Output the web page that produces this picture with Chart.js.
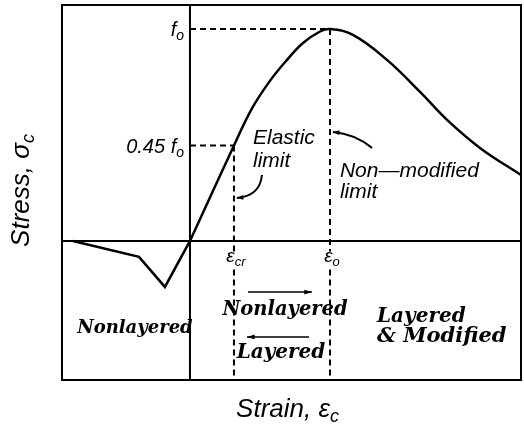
<!DOCTYPE html>
<html>
<head>
<meta charset="utf-8">
<script src="https://cdn.jsdelivr.net/npm/chart.js@4.4.0/dist/chart.umd.min.js"></script>
<style>
  html, body { margin: 0; padding: 0; background: #fff; }
  #wrap { width: 524px; height: 424px; }
</style>
</head>
<body>
<div id="wrap"><canvas id="grafico" width="524" height="424"></canvas></div>
<script>
// curva tension-deformacion (unidades: deformacion / eps_o, tension / f_o)
const epsCr = 0.314;
const epsO = 1.0;
const fO = 1.0;
const ratioElastico = 0.45;

// tramo de traccion (negativo)
const strainNeg = [-0.836, -0.364, -0.179, 0];
const stressNeg = [0, -0.075, -0.217, 0];

// tramo de compresion hasta el pico y descenso
const strainPos = [0, 0.314, 0.443, 0.571, 0.693, 0.807, 0.929, 1.0, 1.164, 1.407, 1.643, 1.836, 2.071, 2.364];
const stressPos = [0, 0.45, 0.625, 0.755, 0.854, 0.934, 0.988, 1.0, 0.972, 0.854, 0.703, 0.571, 0.439, 0.311];

// limites de los ejes
const xMin = -0.914, xMax = 2.364;
const yMin = -0.656, yMax = 1.113;

// textos
const yTicks = [
    { v: ratioElastico * fO, main: "0.45 f", sub: "o" },
    { v: fO, main: "f", sub: "o" }
];
const xTicks = [
    { v: epsCr, main: "\u03B5", sub: "cr" },
    { v: epsO, main: "\u03B5", sub: "o" }
];

const SANS = '"Liberation Sans", Arial, sans-serif';
const SERIF = '"DejaVu Serif", serif';

// helpers
function pts(xs, ys) {
    return xs.map((x, i) => ({ x: x, y: ys[i] }));
}
function linea(data, extra) {
    return Object.assign({
        data: data,
        showLine: true,
        borderColor: '#000',
        borderWidth: 2,
        pointRadius: 0,
        fill: false
    }, extra || {});
}
const dash = { borderDash: [6, 4], borderWidth: 2 };

// texto con subindice
function textoSub(ctx, main, sub, x, y, size, align) {
    const fMain = 'italic ' + size + 'px ' + SANS;
    const fSub = 'italic ' + Math.round(size * 0.7) + 'px ' + SANS;
    ctx.font = fMain;
    const w1 = ctx.measureText(main).width;
    ctx.font = fSub;
    const w2 = ctx.measureText(sub).width;
    const total = w1 + w2;
    let x0 = x;
    if (align === 'right') x0 = x - total;
    if (align === 'center') x0 = x - total / 2;
    ctx.textAlign = 'left';
    ctx.textBaseline = 'alphabetic';
    ctx.font = fMain;
    ctx.fillText(main, x0, y);
    ctx.font = fSub;
    ctx.fillText(sub, x0 + w1, y + size * 0.2);
}

function flecha(ctx, x1, y1, x2, y2) {
    const ang = Math.atan2(y2 - y1, x2 - x1);
    ctx.beginPath();
    ctx.moveTo(x1, y1);
    ctx.lineTo(x2, y2);
    ctx.stroke();
    ctx.beginPath();
    ctx.moveTo(x2, y2);
    ctx.lineTo(x2 - 8 * Math.cos(ang - 0.3), y2 - 8 * Math.sin(ang - 0.3));
    ctx.lineTo(x2 - 8 * Math.cos(ang + 0.3), y2 - 8 * Math.sin(ang + 0.3));
    ctx.closePath();
    ctx.fill();
}

function guia(ctx, a, c, b) {
    ctx.beginPath();
    ctx.moveTo(a[0], a[1]);
    ctx.quadraticCurveTo(c[0], c[1], b[0], b[1]);
    ctx.stroke();
    const ang = Math.atan2(b[1] - c[1], b[0] - c[0]);
    ctx.beginPath();
    ctx.moveTo(b[0], b[1]);
    ctx.lineTo(b[0] - 7 * Math.cos(ang - 0.35), b[1] - 7 * Math.sin(ang - 0.35));
    ctx.lineTo(b[0] - 7 * Math.cos(ang + 0.35), b[1] - 7 * Math.sin(ang + 0.35));
    ctx.closePath();
    ctx.fill();
}

// marco, rotulos y flechas
const rotulos = {
    id: 'rotulos',
    afterDatasetsDraw(chart) {
        const ctx = chart.ctx;
        const a = chart.chartArea;
        const sx = chart.scales.x, sy = chart.scales.y;
        const X = v => sx.getPixelForValue(v);
        const Y = v => sy.getPixelForValue(v);
        ctx.save();
        ctx.fillStyle = '#000';
        ctx.strokeStyle = '#000';

        // marco
        ctx.lineWidth = 2;
        ctx.strokeRect(a.left, a.top, a.right - a.left, a.bottom - a.top);

        // ticks del eje de tensiones (dentro del marco)
        yTicks.forEach(t => textoSub(ctx, t.main, t.sub, X(0) - 6, Y(t.v) + 7, 20, 'right'));
        // ticks de deformacion
        xTicks.forEach(t => textoSub(ctx, t.main, t.sub, X(t.v) + 2, Y(-0.1), 19, 'center'));

        // notas sobre la curva
        ctx.font = 'italic 21px ' + SANS;
        ctx.textAlign = 'left';
        ctx.fillText('Elastic', X(0.45), Y(0.458));
        ctx.fillText('limit', X(0.45), Y(0.349));
        ctx.fillText('Non\u2014modified', X(1.071), Y(0.302));
        ctx.fillText('limit', X(1.071), Y(0.203));

        ctx.lineWidth = 2;
        guia(ctx, [X(0.514), Y(0.311)], [X(0.5), Y(0.212)], [X(epsCr + 0.02), Y(0.203)]);
        guia(ctx, [X(1.3), Y(0.439)], [X(1.179), Y(0.505)], [X(epsO + 0.02), Y(0.514)]);

        // zonas
        ctx.textAlign = 'center';
        ctx.font = 'bold italic 18px ' + SERIF;
        ctx.fillText('Nonlayered', X(-0.393), Y(-0.434));
        ctx.font = 'bold italic 19.5px ' + SERIF;
        ctx.fillText('Nonlayered', X(0.679), Y(-0.349));
        ctx.font = 'bold italic 20px ' + SERIF;
        ctx.fillText('Layered', X(0.65), Y(-0.552));
        ctx.textAlign = 'left';
        ctx.font = 'bold italic 20px ' + SERIF;
        ctx.fillText('Layered', X(1.336), Y(-0.382));
        ctx.font = 'bold italic 21px ' + SERIF;
        ctx.fillText('& Modified', X(1.336), Y(-0.476));

        ctx.lineWidth = 1.5;
        flecha(ctx, X(0.414), Y(-0.241), X(0.871), Y(-0.241));
        flecha(ctx, X(0.85), Y(-0.453), X(0.407), Y(-0.453));

        // titulos de ejes
        textoSub(ctx, 'Strain, \u03B5', 'c', (a.left + a.right) / 2 - 4, a.bottom + 37, 26, 'center');
        ctx.translate(a.left - 33, (a.top + a.bottom) / 2 - 2);
        ctx.rotate(-Math.PI / 2);
        textoSub(ctx, 'Stress, \u03C3', 'c', 0, 0, 26, 'center');
        ctx.restore();
    }
};

const ctx = document.getElementById("grafico").getContext("2d");
const grafico = new Chart(ctx, {
    type: 'scatter',
    data: {
        datasets: [
            // ejes de referencia
            linea([{ x: xMin, y: 0 }, { x: xMax, y: 0 }]),
            linea([{ x: 0, y: yMin }, { x: 0, y: yMax }]),
            // guias discontinuas
            linea([{ x: 0, y: fO }, { x: epsO, y: fO }], dash),
            linea([{ x: 0, y: ratioElastico * fO }, { x: epsCr, y: ratioElastico * fO }], dash),
            linea([{ x: epsCr, y: ratioElastico * fO }, { x: epsCr, y: -0.05 }], dash),
            linea([{ x: epsCr, y: -0.135 }, { x: epsCr, y: yMin }], dash),
            linea([{ x: epsO, y: fO }, { x: epsO, y: -0.05 }], dash),
            linea([{ x: epsO, y: -0.135 }, { x: epsO, y: yMin }], dash),
            // curva
            linea(pts(strainNeg, stressNeg), { borderWidth: 2.5, tension: 0 }),
            linea(pts(strainPos, stressPos), { borderWidth: 2.5, tension: 0.4 })
        ]
    },
    options: {
        responsive: false,
        animation: false,
        layout: { padding: { left: 62, top: 5, right: 3, bottom: 44 } },
        scales: {
            x: { type: 'linear', min: xMin, max: xMax, display: false },
            y: { type: 'linear', min: yMin, max: yMax, display: false }
        },
        plugins: {
            legend: { display: false },
            tooltip: { enabled: false }
        }
    },
    plugins: [rotulos]
});
</script>
</body>
</html>
